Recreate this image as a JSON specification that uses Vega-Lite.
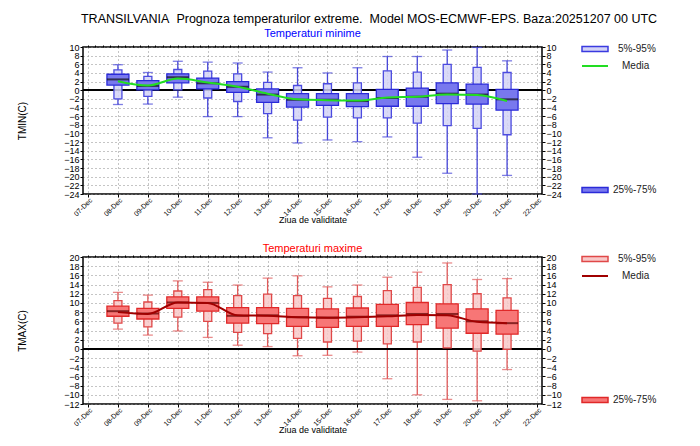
{
"$schema":"https://vega.github.io/schema/vega-lite/v6.json",
"padding":{"left":16,"top":12,"right":5,"bottom":2},
"title":{"text":"TRANSILVANIA\u00a0 Prognoza temperaturilor extreme.\u00a0 Model MOS-ECMWF-EPS. Baza:20251207 00 UTC","fontSize":12.5,"fontWeight":"normal","color":"black","anchor":"start","dx":64,"offset":2},
"datasets":{
"tmin":[
{"day":8,"min":-3.3,"p5":-2.0,"p25":1.2,"med":2.5,"p75":3.7,"p95":4.7,"max":5.9,"mean":2.1},
{"day":9,"min":-3.2,"p5":-1.4,"p25":0.1,"med":1.0,"p75":2.2,"p95":3.2,"max":4.1,"mean":1.1},
{"day":10,"min":-1.6,"p5":0.1,"p25":1.7,"med":3.0,"p75":3.8,"p95":4.8,"max":6.7,"mean":2.7},
{"day":11,"min":-6.1,"p5":-1.8,"p25":0.3,"med":1.6,"p75":2.8,"p95":4.4,"max":6.5,"mean":1.8},
{"day":12,"min":-6.1,"p5":-2.6,"p25":-0.5,"med":0.8,"p75":2.0,"p95":3.8,"max":6.3,"mean":0.8},
{"day":13,"min":-11.0,"p5":-5.4,"p25":-2.8,"med":-1.0,"p75":0.3,"p95":1.8,"max":4.2,"mean":-0.8},
{"day":14,"min":-12.2,"p5":-6.9,"p25":-3.9,"med":-2.2,"p75":-0.8,"p95":1.1,"max":5.2,"mean":-2.1},
{"day":15,"min":-11.5,"p5":-6.2,"p25":-3.5,"med":-2.2,"p75":-0.8,"p95":1.5,"max":4.0,"mean":-2.3},
{"day":16,"min":-11.9,"p5":-6.4,"p25":-3.8,"med":-2.5,"p75":-0.8,"p95":1.7,"max":5.2,"mean":-2.4},
{"day":17,"min":-10.8,"p5":-6.4,"p25":-3.7,"med":-1.8,"p75":0.2,"p95":4.5,"max":7.8,"mean":-1.7},
{"day":18,"min":-15.5,"p5":-7.6,"p25":-3.7,"med":-1.5,"p75":0.5,"p95":4.2,"max":7.8,"mean":-1.5},
{"day":19,"min":-19.2,"p5":-8.2,"p25":-3.1,"med":-0.8,"p75":1.7,"p95":6.0,"max":9.3,"mean":-1.0},
{"day":20,"min":-24.0,"p5":-8.8,"p25":-3.2,"med":-1.0,"p75":1.4,"p95":5.3,"max":9.9,"mean":-1.1},
{"day":21,"min":-19.7,"p5":-10.3,"p25":-4.6,"med":-2.1,"p75":0.2,"p95":4.1,"max":6.8,"mean":-2.5}
],
"tmax":[
{"day":8,"min":4.3,"p5":5.6,"p25":7.1,"med":8.2,"p75":9.3,"p95":10.5,"max":12.3,"mean":8.0},
{"day":9,"min":3.0,"p5":4.8,"p25":6.5,"med":7.7,"p75":8.8,"p95":10.2,"max":11.7,"mean":7.6},
{"day":10,"min":3.9,"p5":6.9,"p25":8.8,"med":10.1,"p75":11.3,"p95":12.6,"max":14.8,"mean":10.1},
{"day":11,"min":2.5,"p5":6.0,"p25":8.2,"med":10.0,"p75":11.3,"p95":12.9,"max":14.5,"mean":10.0},
{"day":12,"min":0.8,"p5":3.6,"p25":5.6,"med":7.2,"p75":9.0,"p95":11.6,"max":13.9,"mean":7.3},
{"day":13,"min":0.5,"p5":3.3,"p25":5.5,"med":7.3,"p75":9.0,"p95":11.9,"max":15.4,"mean":7.2},
{"day":14,"min":-1.5,"p5":2.3,"p25":4.9,"med":6.9,"p75":8.8,"p95":11.6,"max":15.9,"mean":6.9},
{"day":15,"min":-1.4,"p5":1.5,"p25":4.7,"med":6.8,"p75":8.7,"p95":11.0,"max":13.5,"mean":6.8},
{"day":16,"min":-0.7,"p5":1.7,"p25":4.9,"med":7.0,"p75":8.9,"p95":11.4,"max":13.9,"mean":6.9},
{"day":17,"min":-6.5,"p5":1.1,"p25":4.9,"med":7.3,"p75":9.7,"p95":12.7,"max":15.6,"mean":7.1},
{"day":18,"min":-10.0,"p5":1.5,"p25":5.3,"med":7.6,"p75":10.1,"p95":13.4,"max":16.7,"mean":7.4},
{"day":19,"min":-11.0,"p5":0.2,"p25":4.5,"med":7.6,"p75":9.8,"p95":14.0,"max":18.7,"mean":7.3},
{"day":20,"min":-11.3,"p5":-0.5,"p25":3.4,"med":6.0,"p75":8.7,"p95":12.0,"max":15.1,"mean":5.9},
{"day":21,"min":-4.5,"p5":-0.1,"p25":3.2,"med":5.6,"p75":8.4,"p95":11.1,"max":15.3,"mean":5.6}
]
},
"spacing":16,
"vconcat":[
{
"width":459,"height":147,
"title":{"text":"Temperaturi minime","color":"#0000ff","fontSize":11,"fontWeight":"normal","anchor":"middle","frame":"group","offset":-4},
"data":{"name":"tmin"},
"layer":[
  {"mark":{"type":"rule","color":"#4646d8","strokeWidth":1.3},
   "encoding":{
    "x":{"field":"day","type":"quantitative","title":"Ziua de validitate","scale":{"domain":[7,22],"nice":false,"zero":false},
     "axis":{"values":[7,8,9,10,11,12,13,14,15,16,17,18,19,20,21,22],"labelExpr":"(datum.value < 10 ? '0' : '') + datum.value + '-Dec'","labelAngle":-45,"grid":true,"tickSize":3,"labelPadding":-1,"labelFontSize":7,"titlePadding":-1,"titleFontSize":9}},
    "y":{"field":"min","type":"quantitative","title":"TMIN(C)","scale":{"domain":[-24,10],"nice":false,"zero":false},
     "axis":{"values":[-24,-22,-20,-18,-16,-14,-12,-10,-8,-6,-4,-2,0,2,4,6,8,10],"grid":true,"tickSize":3,"labelPadding":1,"titlePadding":36,"labelOverlap":false}},
    "y2":{"field":"p5"}}},
  {"mark":{"type":"rule","color":"black","strokeWidth":1.6},
   "encoding":{"y":{"datum":0,"type":"quantitative","axis":null}}},
  {"mark":{"type":"rule","color":"#4646d8","strokeWidth":1.3},
   "encoding":{"x":{"field":"day","type":"quantitative","axis":null},"y":{"field":"p95","type":"quantitative","axis":null},"y2":{"field":"max"}}},
  {"mark":{"type":"tick","orient":"horizontal","color":"#4646d8","size":10,"thickness":1.3},
   "encoding":{"x":{"field":"day","type":"quantitative","axis":null},"y":{"field":"min","type":"quantitative","axis":null}}},
  {"mark":{"type":"tick","orient":"horizontal","color":"#4646d8","size":10,"thickness":1.3},
   "encoding":{"x":{"field":"day","type":"quantitative","axis":null},"y":{"field":"max","type":"quantitative","axis":null}}},
  {"mark":{"type":"bar","size":8,"stroke":"#4b4be0","strokeWidth":1.3,"fillOpacity":0.85},
   "encoding":{"x":{"field":"day","type":"quantitative","axis":null},"y":{"field":"p5","type":"quantitative","axis":null},"y2":{"field":"p95"},
    "fill":{"datum":"5%-95%","type":"nominal","scale":{"range":["#d2d2f6"]},
     "legend":{"orient":"none","legendX":498,"legendY":-12,"title":null,"symbolType":"M-1,-0.2H1V0.2H-1Z","symbolSize":676,"symbolStrokeColor":"#3a3ae0","symbolStrokeWidth":1.5,"labelFontSize":10,"labelOffset":9}}}},
  {"mark":{"type":"bar","size":22,"stroke":"#2a2ad8","strokeWidth":1.3},
   "encoding":{"x":{"field":"day","type":"quantitative","axis":null},"y":{"field":"p25","type":"quantitative","axis":null},"y2":{"field":"p75"},
    "fill":{"datum":"25%-75%","type":"nominal","scale":{"range":["#7878ee"]},
     "legend":{"orient":"none","legendX":498,"legendY":129,"title":null,"symbolType":"M-1,-0.2H1V0.2H-1Z","symbolSize":676,"symbolStrokeColor":"#2a2ad8","symbolStrokeWidth":1.5,"labelFontSize":10,"labelOffset":4}}}},
  {"mark":{"type":"tick","orient":"horizontal","color":"#111111","size":22,"thickness":2},
   "encoding":{"x":{"field":"day","type":"quantitative","axis":null},"y":{"field":"med","type":"quantitative","axis":null}}},
  {"mark":{"type":"line","interpolate":"monotone","strokeWidth":2},
   "encoding":{"x":{"field":"day","type":"quantitative","axis":null},"y":{"field":"mean","type":"quantitative","axis":null},
    "stroke":{"datum":"Media","type":"nominal","scale":{"range":["#22dd22"]},
     "legend":{"orient":"none","legendX":498,"legendY":5,"title":null,"symbolType":"stroke","symbolSize":676,"symbolStrokeWidth":2,"labelFontSize":10,"labelOffset":13}}}},
  {"mark":{"type":"point","opacity":0},
   "encoding":{"x":{"field":"day","type":"quantitative","title":null,
     "axis":{"labels":false,"grid":false,"values":[7,7.25,7.5,7.75,8,8.25,8.5,8.75,9,9.25,9.5,9.75,10,10.25,10.5,10.75,11,11.25,11.5,11.75,12,12.25,12.5,12.75,13,13.25,13.5,13.75,14,14.25,14.5,14.75,15,15.25,15.5,15.75,16,16.25,16.5,16.75,17,17.25,17.5,17.75,18,18.25,18.5,18.75,19,19.25,19.5,19.75,20,20.25,20.5,20.75,21,21.25,21.5,21.75,22],"tickSize":2}},
    "y":{"field":"mean","type":"quantitative","title":null,
     "axis":{"orient":"right","values":[-24,-22,-20,-18,-16,-14,-12,-10,-8,-6,-4,-2,0,2,4,6,8,10],"grid":false,"tickSize":3,"labelPadding":1,"labelOverlap":false}}}}
],
"resolve":{"scale":{"fill":"independent"},"axis":{"x":"independent","y":"independent"}}
},
{
"width":459,"height":147,
"title":{"text":"Temperaturi maxime","color":"#ff0000","fontSize":11,"fontWeight":"normal","anchor":"middle","frame":"group","offset":-9},
"data":{"name":"tmax"},
"layer":[
  {"mark":{"type":"rule","color":"#e05a5a","strokeWidth":1.3},
   "encoding":{
    "x":{"field":"day","type":"quantitative","title":"Ziua de validitate","scale":{"domain":[7,22],"nice":false,"zero":false},
     "axis":{"values":[7,8,9,10,11,12,13,14,15,16,17,18,19,20,21,22],"labelExpr":"(datum.value < 10 ? '0' : '') + datum.value + '-Dec'","labelAngle":-45,"grid":true,"tickSize":3,"labelPadding":-1,"labelFontSize":7,"titlePadding":-1,"titleFontSize":9}},
    "y":{"field":"min","type":"quantitative","title":"TMAX(C)","scale":{"domain":[-12,20],"nice":false,"zero":false},
     "axis":{"values":[-12,-10,-8,-6,-4,-2,0,2,4,6,8,10,12,14,16,18,20],"grid":true,"tickSize":3,"labelPadding":1,"titlePadding":36,"labelOverlap":false}},
    "y2":{"field":"p5"}}},
  {"mark":{"type":"rule","color":"black","strokeWidth":1.6},
   "encoding":{"y":{"datum":0,"type":"quantitative","axis":null}}},
  {"mark":{"type":"rule","color":"#e05a5a","strokeWidth":1.3},
   "encoding":{"x":{"field":"day","type":"quantitative","axis":null},"y":{"field":"p95","type":"quantitative","axis":null},"y2":{"field":"max"}}},
  {"mark":{"type":"tick","orient":"horizontal","color":"#e05a5a","size":10,"thickness":1.3},
   "encoding":{"x":{"field":"day","type":"quantitative","axis":null},"y":{"field":"min","type":"quantitative","axis":null}}},
  {"mark":{"type":"tick","orient":"horizontal","color":"#e05a5a","size":10,"thickness":1.3},
   "encoding":{"x":{"field":"day","type":"quantitative","axis":null},"y":{"field":"max","type":"quantitative","axis":null}}},
  {"mark":{"type":"bar","size":8,"stroke":"#e04848","strokeWidth":1.3,"fillOpacity":0.85},
   "encoding":{"x":{"field":"day","type":"quantitative","axis":null},"y":{"field":"p5","type":"quantitative","axis":null},"y2":{"field":"p95"},
    "fill":{"datum":"5%-95%","type":"nominal","scale":{"range":["#f8c8c8"]},
     "legend":{"orient":"none","legendX":498,"legendY":-12,"title":null,"symbolType":"M-1,-0.2H1V0.2H-1Z","symbolSize":676,"symbolStrokeColor":"#e04848","symbolStrokeWidth":1.5,"labelFontSize":10,"labelOffset":9}}}},
  {"mark":{"type":"bar","size":22,"stroke":"#e02828","strokeWidth":1.3},
   "encoding":{"x":{"field":"day","type":"quantitative","axis":null},"y":{"field":"p25","type":"quantitative","axis":null},"y2":{"field":"p75"},
    "fill":{"datum":"25%-75%","type":"nominal","scale":{"range":["#f77676"]},
     "legend":{"orient":"none","legendX":498,"legendY":129,"title":null,"symbolType":"M-1,-0.2H1V0.2H-1Z","symbolSize":676,"symbolStrokeColor":"#e02828","symbolStrokeWidth":1.5,"labelFontSize":10,"labelOffset":4}}}},
  {"mark":{"type":"tick","orient":"horizontal","color":"#5a0000","size":22,"thickness":2},
   "encoding":{"x":{"field":"day","type":"quantitative","axis":null},"y":{"field":"med","type":"quantitative","axis":null}}},
  {"mark":{"type":"line","interpolate":"monotone","strokeWidth":2},
   "encoding":{"x":{"field":"day","type":"quantitative","axis":null},"y":{"field":"mean","type":"quantitative","axis":null},
    "stroke":{"datum":"Media","type":"nominal","scale":{"range":["#a00000"]},
     "legend":{"orient":"none","legendX":498,"legendY":5,"title":null,"symbolType":"stroke","symbolSize":676,"symbolStrokeWidth":2,"labelFontSize":10,"labelOffset":13}}}},
  {"mark":{"type":"point","opacity":0},
   "encoding":{"x":{"field":"day","type":"quantitative","title":null,
     "axis":{"labels":false,"grid":false,"values":[7,7.25,7.5,7.75,8,8.25,8.5,8.75,9,9.25,9.5,9.75,10,10.25,10.5,10.75,11,11.25,11.5,11.75,12,12.25,12.5,12.75,13,13.25,13.5,13.75,14,14.25,14.5,14.75,15,15.25,15.5,15.75,16,16.25,16.5,16.75,17,17.25,17.5,17.75,18,18.25,18.5,18.75,19,19.25,19.5,19.75,20,20.25,20.5,20.75,21,21.25,21.5,21.75,22],"tickSize":2}},
    "y":{"field":"mean","type":"quantitative","title":null,
     "axis":{"orient":"right","values":[-12,-10,-8,-6,-4,-2,0,2,4,6,8,10,12,14,16,18,20],"grid":false,"tickSize":3,"labelPadding":1,"labelOverlap":false}}}}
],
"resolve":{"scale":{"fill":"independent"},"axis":{"x":"independent","y":"independent"}}
}
],
"resolve":{"scale":{"fill":"independent","stroke":"independent"}},
"config":{
"font":"Liberation Sans",
"view":{"stroke":"black","strokeWidth":1.5},
"axis":{"labelFont":"Liberation Sans","labelFontSize":9,"labelColor":"black","titleFont":"Liberation Sans","titleFontSize":10,"titleFontWeight":"normal","titleColor":"black","domain":false,"tickColor":"black","gridColor":"#8a8a8a","gridDash":[1,3],"gridWidth":1,"gridOpacity":1},
"legend":{"labelFont":"Liberation Sans","labelColor":"#222222","padding":0},
"title":{"font":"Liberation Sans"}
}
}
